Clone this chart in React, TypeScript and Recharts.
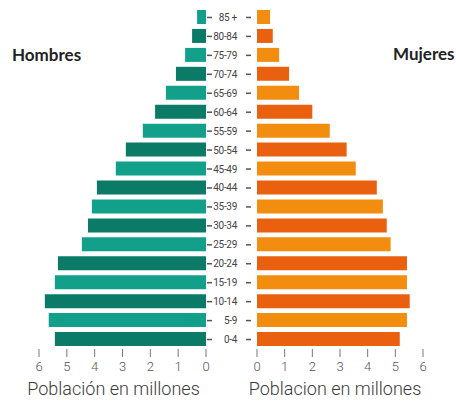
import React from 'react';
import { BarChart, Bar, XAxis, YAxis, Cell } from 'recharts';

const ageGroups = ['85 +', '80-84', '75-79', '70-74', '65-69', '60-64', '55-59', '50-54', '45-49', '40-44', '35-39', '30-34', '25-29', '20-24', '15-19', '10-14', '5-9', '0-4'];
const hombres = [0.32, 0.5, 0.75, 1.08, 1.44, 1.83, 2.27, 2.88, 3.24, 3.92, 4.1, 4.24, 4.46, 5.32, 5.43, 5.79, 5.65, 5.43];
const mujeres = [0.47, 0.57, 0.8, 1.16, 1.52, 2.0, 2.63, 3.24, 3.57, 4.33, 4.55, 4.69, 4.83, 5.42, 5.42, 5.52, 5.42, 5.16];
const axisTicks = [0, 1, 2, 3, 4, 5, 6];

const data = ageGroups.map((age, i) => ({ age, hombres: hombres[i], mujeres: mujeres[i] }));

const FONT = 'Roboto, sans-serif';
const tealLight = '#12a08b';
const tealDark = '#0b7b68';
const orangeLight = '#f28d10';
const orangeDark = '#e9600e';

const AgeTick = (props: any) => {
  const { x, y, payload } = props;
  return (
    <g>
      <line x1={x + 1} x2={x + 6} y1={y} y2={y} stroke="#555" strokeWidth={1.5} />
      <text x={x + 31} y={y} dy="0.35em" textAnchor="end" fontSize={10} fill="#444" fontFamily={FONT} letterSpacing={-0.3}>
        {payload.value}
      </text>
      <line x1={x + 40} x2={x + 45} y1={y} y2={y} stroke="#555" strokeWidth={1.5} />
    </g>
  );
};

export default function App() {
  return (
    <div style={{ position: 'absolute', left: 0, top: 0, width: 456, height: 402, background: '#fff', overflow: 'hidden' }}>
      <div style={{ position: 'absolute', left: 12, top: 46, fontFamily: 'Lato, sans-serif', fontWeight: 700, fontSize: 17, lineHeight: '17px', color: '#222' }}>
        Hombres
      </div>
      <div style={{ position: 'absolute', left: 393, top: 45, fontFamily: 'Lato, sans-serif', fontWeight: 700, fontSize: 17, lineHeight: '17px', color: '#222' }}>
        Mujeres
      </div>
      <div style={{ position: 'absolute', left: 0, top: 0 }}>
        <BarChart width={257} height={402} layout="vertical" data={data} margin={{ top: 8, right: 0, bottom: 3, left: 39 }}>
          <XAxis
            type="number"
            domain={[0, 6]}
            ticks={axisTicks}
            reversed
            axisLine={false}
            tickSize={8}
            tickMargin={5}
            tickLine={{ stroke: '#777' }}
            tick={{ fontSize: 13, fill: '#555', fontFamily: FONT, fontWeight: 300 }}
            height={50}
            interval={0}
            label={{ value: 'Población en millones', position: 'insideBottom', offset: 4, dx: -9, fontSize: 18, fill: '#3a3a3a', fontFamily: FONT, fontWeight: 300 }}
          />
          <YAxis
            type="category"
            dataKey="age"
            orientation="right"
            width={51}
            axisLine={false}
            tickLine={false}
            tickSize={0}
            tickMargin={0}
            interval={0}
            tick={<AgeTick />}
          />
          <Bar dataKey="hombres" barSize={14} isAnimationActive={false}>
            {data.map((d, i) => (
              <Cell key={d.age} fill={i % 2 === 0 ? tealLight : tealDark} />
            ))}
          </Bar>
        </BarChart>
      </div>
      <div style={{ position: 'absolute', left: 207, top: 0 }}>
        <BarChart width={249} height={402} layout="vertical" data={data} margin={{ top: 8, right: 33, bottom: 3, left: 50 }}>
          <XAxis
            type="number"
            domain={[0, 6]}
            ticks={axisTicks}
            axisLine={false}
            tickSize={8}
            tickMargin={5}
            tickLine={{ stroke: '#777' }}
            tick={{ fontSize: 13, fill: '#555', fontFamily: FONT, fontWeight: 300 }}
            height={50}
            interval={0}
            label={{ value: 'Poblacion en millones', position: 'insideBottom', offset: 4, dx: -5, fontSize: 18, fill: '#3a3a3a', fontFamily: FONT, fontWeight: 300 }}
          />
          <YAxis type="category" dataKey="age" hide />
          <Bar dataKey="mujeres" barSize={14} isAnimationActive={false}>
            {data.map((d, i) => (
              <Cell key={d.age} fill={i % 2 === 0 ? orangeLight : orangeDark} />
            ))}
          </Bar>
        </BarChart>
      </div>
    </div>
  );
}
